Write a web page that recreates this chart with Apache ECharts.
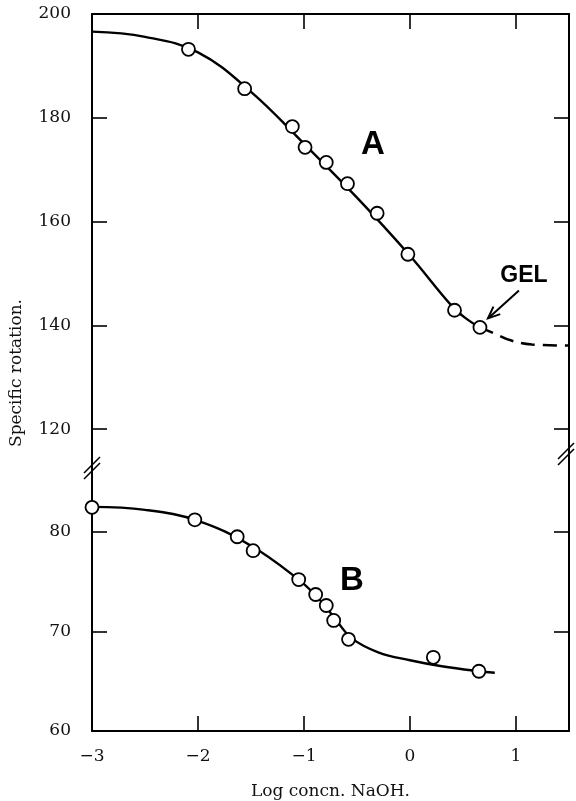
<!DOCTYPE html>
<html>
<head>
<meta charset="UTF-8">
<title>Specific rotation vs log concn. NaOH</title>
<script src="https://cdn.jsdelivr.net/npm/echarts@6/dist/echarts.min.js"></script>
<style>
  html, body { margin: 0; padding: 0; background: #fff; }
  #chart { width: 576px; height: 801px; }
</style>
</head>
<body>
<div id="chart"></div>
<script>
// tick values
const xTicks = [-3, -2, -1, 0, 1];
const yTicksTop = [120, 140, 160, 180, 200];
const yTicksBottom = [60, 70, 80];

// curve A: measured points, drawn curve, dashed gel part
const aPointsX = [-2.09, -1.56, -1.11, -0.99, -0.79, -0.59, -0.31, -0.02, 0.42, 0.66];
const aPointsY = [193.2, 185.6, 178.3, 174.3, 171.4, 167.3, 161.6, 153.7, 142.9, 139.6];
const aCurveX = [-3, -2.5, -2, -1.5, -1, -0.5, 0, 0.4, 0.55, 0.66];
const aCurveY = [196.6, 195.6, 192.6, 185.0, 175.0, 164.6, 153.4, 143.6, 141.0, 139.6];
const aGelX = [0.66, 0.8, 0.95, 1.15, 1.5];
const aGelY = [139.6, 138.4, 137.1, 136.3, 136.1];

// curve B
const bPointsX = [-3.0, -2.03, -1.63, -1.48, -1.05, -0.89, -0.79, -0.72, -0.58, 0.22, 0.65];
const bPointsY = [82.45, 81.2, 79.5, 78.1, 75.2, 73.7, 72.6, 71.1, 69.2, 67.4, 66.0];
const bCurveX = [-3, -2.5, -2, -1.5, -1.05, -0.89, -0.79, -0.68, -0.55, -0.3, 0, 0.3, 0.65, 0.8];
const bCurveY = [82.5, 82.2, 81.1, 78.6, 75.2, 73.6, 72.4, 70.9, 69.3, 67.9, 67.1, 66.5, 66.0, 65.85];

const zip = (xs, ys) => xs.map((x, i) => [x, ys[i]]);

const serif = '"DejaVu Serif", "Liberation Serif", serif';
const sans = '"Liberation Sans", "DejaVu Sans", sans-serif';

const axisLine = { show: true, onZero: false, lineStyle: { color: '#000', width: 2 } };
const tick = { show: true, inside: true, length: 15, lineStyle: { color: '#000', width: 1.6 } };

function yAx(grid, pos, min, max, ticks, labels) {
  return {
    type: 'value', gridIndex: grid, position: pos, min: min, max: max,
    axisLine: axisLine,
    axisTick: Object.assign({ customValues: ticks }, tick),
    axisLabel: labels ? {
      show: true, customValues: ticks, margin: 21,
      color: '#111', fontFamily: serif, fontSize: 17
    } : { show: false },
    splitLine: { show: false }
  };
}

const dot = { color: '#fff', borderColor: '#000', borderWidth: 1.8, opacity: 1 };
const curve = { color: '#000', width: 2.4 };

const chart = echarts.init(document.getElementById('chart'), null, { renderer: 'canvas' });
chart.setOption({
  animation: false,
  backgroundColor: '#fff',
  grid: [
    { left: 92, right: 7, top: 14, height: 454 },
    { left: 92, right: 7, top: 468, height: 269 }
  ],
  xAxis: [
    {
      type: 'value', gridIndex: 0, position: 'top', min: -3, max: 1.5,
      axisLine: axisLine,
      axisTick: Object.assign({ customValues: xTicks }, tick),
      axisLabel: { show: false }, splitLine: { show: false }
    },
    {
      type: 'value', gridIndex: 1, position: 'bottom', min: -3, max: 1.5,
      axisLine: axisLine,
      axisTick: Object.assign({ customValues: xTicks }, tick),
      axisLabel: {
        customValues: xTicks, margin: 17, color: '#111', fontFamily: serif, fontSize: 17,
        formatter: v => String(v).replace('-', '\u2212')
      },
      splitLine: { show: false },
      name: 'Log concn. NaOH.', nameLocation: 'middle', nameGap: 52,
      nameTextStyle: { fontFamily: serif, fontSize: 17, color: '#111' }
    }
  ],
  yAxis: [
    yAx(0, 'left', 112.5, 200, yTicksTop, true),
    yAx(0, 'right', 112.5, 200, yTicksTop, false),
    yAx(1, 'left', 60, 86.4, yTicksBottom, true),
    yAx(1, 'right', 60, 86.4, yTicksBottom, false)
  ],
  series: [
    { type: 'line', xAxisIndex: 0, yAxisIndex: 0, data: zip(aCurveX, aCurveY),
      smooth: 0.4, showSymbol: false, lineStyle: curve },
    { type: 'line', xAxisIndex: 0, yAxisIndex: 0, data: zip(aGelX, aGelY),
      smooth: 0.4, showSymbol: false, lineStyle: { color: '#000', width: 2.6, type: [14, 8] } },
    { type: 'scatter', xAxisIndex: 0, yAxisIndex: 0, data: zip(aPointsX, aPointsY),
      symbol: 'circle', symbolSize: 13, itemStyle: dot, z: 5, clip: false },
    { type: 'line', xAxisIndex: 1, yAxisIndex: 2, data: zip(bCurveX, bCurveY),
      smooth: 0.4, showSymbol: false, lineStyle: curve },
    { type: 'scatter', xAxisIndex: 1, yAxisIndex: 2, data: zip(bPointsX, bPointsY),
      symbol: 'circle', symbolSize: 13, itemStyle: dot, z: 5, clip: false }
  ]
});

// annotations: axis break marks, curve letters, GEL arrow, y title
const px = (g, p) => chart.convertToPixel({ gridIndex: g }, p);
const leftBreak = px(1, [-3, 86.4]);
const rightBreak = px(1, [1.5, 86.4]);
function slashes(x, y) {
  return [0, 6].map(d => ({
    type: 'line', z: 10,
    shape: { x1: x - 8, y1: y + 9 + d, x2: x + 8, y2: y - 7 + d },
    style: { stroke: '#000', lineWidth: 1.6 }
  }));
}
const gelPt = px(0, [aPointsX[9], aPointsY[9]]);
const tip = [gelPt[0] + 8, gelPt[1] - 9];
const tail = [tip[0] + 31, tip[1] - 28];
const ang = Math.atan2(tail[1] - tip[1], tail[0] - tip[0]);
const head = [0.4, -0.4].map(a => [tip[0] + 13 * Math.cos(ang + a), tip[1] + 13 * Math.sin(ang + a)]);

chart.setOption({
  graphic: [].concat(
    slashes(leftBreak[0], leftBreak[1] - 4),
    slashes(rightBreak[0] - 3, rightBreak[1] - 18),
    [
      { type: 'text', x: 373, y: 145, style: { text: 'A', font: 'bold 33px ' + sans, fill: '#000', align: 'center', verticalAlign: 'middle' } },
      { type: 'text', x: 352, y: 581, style: { text: 'B', font: 'bold 33px ' + sans, fill: '#000', align: 'center', verticalAlign: 'middle' } },
      { type: 'text', x: 524, y: 276, style: { text: 'GEL', font: 'bold 23px ' + sans, fill: '#000', align: 'center', verticalAlign: 'middle' } },
      { type: 'line', shape: { x1: tail[0], y1: tail[1], x2: tip[0], y2: tip[1] }, style: { stroke: '#000', lineWidth: 2 } },
      { type: 'polyline', shape: { points: [head[0], tip, head[1]] }, style: { stroke: '#000', lineWidth: 2, fill: null } },
      { type: 'text', x: 17, y: 373, rotation: Math.PI / 2,
        style: { text: 'Specific rotation.', font: '17px ' + serif, fill: '#111', align: 'center', verticalAlign: 'middle' } }
    ]
  )
});
</script>
</body>
</html>
